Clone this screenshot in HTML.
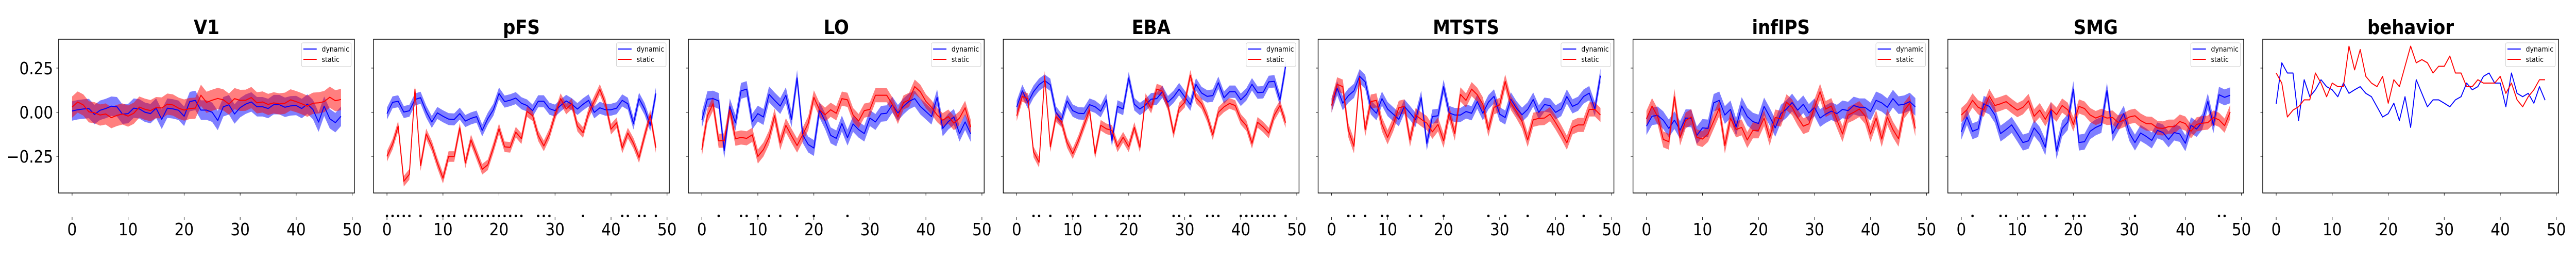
<!DOCTYPE html>
<html><head><meta charset="utf-8"><style>
html,body{margin:0;padding:0;background:#fff;overflow:hidden;width:100%;height:100%;}
svg{display:block;width:100vw;height:100vh;font-family:"DejaVu Sans","Liberation Sans",sans-serif;}
</style></head><body>
<svg id="chart" viewBox="0 0 5600 500" preserveAspectRatio="none" xmlns="http://www.w3.org/2000/svg"></svg>
<script>
const titles = ["V1","pFS","LO","EBA","MTSTS","infIPS","SMG","behavior"];
const xTicks = [0,10,20,30,40,50];
const yTicks = [0.25,0.00,-0.25];
const yTickLabels = ["0.25","0.00","\u22120.25"];
const v1Dyn=[0.007,0.014,0.018,0.021,-0.013,0.011,0.021,0.034,0.031,-0.011,-0.008,0.023,0.019,0,-0.008,0.023,-0.040,0.023,0.019,0.011,-0.023,0.060,0.067,0.012,0.012,0,-0.047,0.031,0.042,-0.010,0.026,0.046,0.058,0.031,0.031,0.021,0.043,0.043,0.028,0.036,0.038,0.021,0.046,0.015,-0.056,0.034,-0.037,-0.059,-0.023];
const v1Sta=[0.029,0.058,0.041,0.002,-0.003,-0.016,-0.010,-0.031,-0.018,-0.010,-0.022,-0.006,0.029,0.017,0.009,0.026,0.024,0.046,0.041,0.023,0.012,0.021,0.023,0.096,0.056,0.068,0.078,0.070,0.046,0.077,0.067,0.068,0.083,0.053,0.058,0.044,0.053,0.047,0.051,0.070,0.060,0.048,0.034,0.051,0.053,0.060,0.085,0.065,0.072];
const pfsDyn=[-0.008,0.056,0.062,0.001,0.008,0.072,0.082,0.004,-0.055,-0.004,-0.023,-0.039,-0.041,-0.008,-0.050,-0.035,-0.025,-0.103,-0.037,0.014,0.106,0.060,0.068,0.080,0.051,0.038,0.009,0.062,0.062,0.020,0.009,0.038,0.064,0.045,0.018,0.045,0.067,-0.001,0.025,0.014,0.014,0.023,0.067,0.048,-0.064,0.077,0.018,-0.074,0.106];
const pfsSta=[-0.250,-0.181,-0.079,-0.391,-0.352,0.131,-0.303,-0.123,-0.191,-0.288,-0.374,-0.251,-0.251,-0.089,-0.287,-0.157,-0.240,-0.323,-0.298,-0.201,-0.094,-0.196,-0.199,-0.113,-0.150,0.004,-0.020,-0.133,-0.191,-0.123,-0.016,0.077,0.018,0.048,-0.079,-0.116,-0.006,0.062,0.129,0.048,-0.096,-0.060,-0.203,-0.118,-0.176,-0.257,-0.133,-0.016,-0.201];
const loDyn=[-0.045,0.074,0.077,0.064,-0.218,0.033,-0.060,0.121,0.131,-0.053,-0.008,-0.027,0.101,0.067,0.035,0.096,-0.040,0.194,-0.128,-0.183,-0.203,0.014,-0.050,-0.131,-0.148,-0.064,-0.144,-0.066,-0.099,-0.121,-0.033,-0.055,-0.009,-0.006,0.043,-0.004,0.033,0.062,0.077,0.033,0.004,-0.025,0.084,-0.092,-0.053,-0.027,-0.121,-0.055,-0.123];
const loSta=[-0.212,-0.020,0.048,-0.162,-0.160,0.014,-0.150,-0.143,-0.148,-0.128,-0.251,-0.211,-0.143,-0.020,-0.174,-0.074,-0.133,-0.189,-0.128,-0.062,0.084,0.014,-0.014,0.014,-0.006,0.077,0.070,-0.016,-0.050,0.009,0.016,0.096,0.096,0.096,0.045,-0.027,0.055,0.070,0.145,0.116,0.062,0.028,-0.016,-0.045,-0.025,-0.062,-0.033,0.025,-0.084];
const ebaDyn=[0.030,0.121,0.055,0.116,0.156,0.179,0.155,-0.001,-0.043,0.064,0.009,-0.006,-0.008,0.043,0.031,0.006,0.070,-0.160,0.033,0.018,0.194,0.045,0.018,0.041,0.074,0.077,0.116,0.057,0.087,0.131,0.087,0.043,0.158,0.109,0.090,0.094,0.167,0.082,0.116,0.116,0.070,0.101,0.158,0.111,0.113,0.172,0.175,0.070,0.257];
const ebaSta=[-0.020,0.089,0.077,-0.225,-0.284,0.204,-0.196,-0.025,-0.055,-0.172,-0.235,-0.162,-0.074,0.012,-0.235,-0.074,-0.094,-0.103,-0.196,-0.142,-0.196,-0.086,-0.199,0.077,0.023,0.131,0.119,0.038,-0.118,0.023,0.057,0.209,0.082,0.048,-0.025,-0.128,-0.001,0.030,0.050,0.038,-0.040,-0.076,-0.176,-0.057,-0.084,-0.118,-0.016,0.038,-0.059];
const mtDyn=[0.038,0.136,0.051,0.094,0.121,0.204,0.172,0.028,-0.006,0.077,0.018,-0.011,-0.040,0.033,-0.004,-0.043,0.082,-0.177,-0.025,-0.020,0.145,-0.004,-0.016,-0.016,0.004,-0.006,0.060,-0.006,0.057,0.090,-0.011,-0.030,0.074,0.023,-0.014,0.016,0.072,-0.001,0.043,0.038,-0.001,0.018,0.089,0.033,0.048,0.089,0.108,0.018,0.207];
const mtSta=[0.038,0.158,0.145,-0.103,-0.193,0.194,-0.099,0.060,0.067,-0.069,-0.142,-0.069,0.025,0.033,-0.157,-0.016,-0.040,-0.062,-0.111,-0.069,-0.162,-0.006,-0.121,0.101,0.067,0.131,0.099,0.045,-0.099,0.028,0.041,0.174,0.053,0.004,-0.053,-0.157,-0.043,-0.035,-0.033,-0.011,-0.059,-0.113,-0.173,-0.086,-0.072,-0.072,0.016,0.016,-0.016];
const ipsDyn=[-0.079,-0.023,-0.018,-0.045,-0.092,-0.045,-0.101,-0.033,-0.035,-0.131,-0.089,-0.092,0.053,0.067,-0.016,0.016,-0.084,0.035,-0.025,-0.053,-0.064,0.033,-0.025,-0.089,-0.008,0.018,0.055,0.012,0.045,-0.004,0.028,-0.033,-0.011,0.006,-0.008,0.016,0.009,0.038,0.028,0.028,0.004,0.067,0.053,0.028,0.077,0.040,0.045,0.060,0.030];
const ipsSta=[-0.037,0.035,-0.025,-0.154,-0.167,0.087,-0.144,-0.047,-0.027,-0.142,-0.152,-0.123,-0.050,0.023,-0.189,-0.035,-0.098,-0.086,-0.157,-0.103,-0.103,-0.033,-0.144,-0.030,-0.037,0.057,0.028,-0.030,-0.079,-0.066,0.028,0.116,0.018,0.035,-0.045,-0.123,-0.016,-0.001,0.018,-0.020,-0.123,-0.033,-0.152,-0.027,-0.098,-0.150,0.009,0.051,-0.092];
const smgDyn=[-0.111,-0.027,-0.108,-0.095,0.048,0.033,-0.016,-0.121,-0.098,-0.072,-0.121,-0.172,-0.162,-0.089,-0.128,-0.199,0.016,-0.220,-0.093,-0.056,0.131,-0.172,-0.167,-0.108,-0.086,-0.072,0.123,-0.121,-0.064,-0.008,-0.118,-0.172,-0.118,-0.137,-0.160,-0.103,-0.115,-0.154,-0.115,-0.123,-0.176,-0.074,-0.095,-0.055,0.062,-0.074,0.099,0.084,0.096];
const smgSta=[-0.016,0.014,0.067,0.028,0.014,0.092,0.038,0.048,0.060,0.035,0.012,0.028,0.064,-0.023,0.012,-0.040,0.018,-0.014,0.038,0.014,-0.069,0.033,0.021,-0.016,-0.033,-0.020,-0.033,-0.030,-0.058,-0.045,-0.027,-0.020,-0.047,-0.064,-0.066,-0.089,-0.092,-0.082,-0.082,-0.053,-0.064,-0.108,-0.069,-0.062,-0.059,-0.030,-0.043,-0.076,0.002];
const behDyn=[0.048,0.280,0.222,0.222,-0.047,0.184,0.088,0.127,0.184,0.145,0.127,0.088,0.165,0.107,0.127,0.145,0.107,0.088,0.031,-0.027,-0.008,0.051,-0.047,0.088,-0.086,0.184,0.107,0.031,0.070,0.070,0.051,0.031,0.070,0.088,0.165,0.127,0.145,0.203,0.222,0.165,0.165,0.031,0.222,0.107,0.088,0.107,0.051,0.145,0.068];
const behSta=[0.222,0.165,-0.027,0.012,0.031,0.070,0.070,0.222,0.165,0.088,0.165,0.145,0.145,0.374,0.240,0.355,0.203,0.165,0.145,0.203,0.051,0.184,0.145,0.260,0.374,0.280,0.298,0.280,0.222,0.260,0.260,0.318,0.222,0.222,0.145,0.145,0.184,0.165,0.165,0.165,0.203,0.107,0.165,0.070,0.031,0.088,0.127,0.184,0.184];
const errDyn=[0.055,0.034,0.045,0.035,0.040,0.050,0.045,0.0];
const errSta=[0.060,0.030,0.040,0.030,0.040,0.045,0.040,0.0];
const sigPfs=[0,1,2,3,4,6,9,10,11,12,14,15,16,17,18,19,20,21,22,23,24,27,28,29,35,42,43,45,46,48];
const sigLo=[3,7,8,10,12,14,17,20,26];
const sigEba=[3,4,6,9,10,11,14,16,18,19,20,21,22,28,29,31,34,35,36,40,41,42,43,44,45,46,48];
const sigMt=[3,4,6,9,10,14,16,20,28,31,35,42,45,48];
const sigSmg=[2,7,8,11,12,15,17,20,21,22,31,46,47];
const dynSeries=[v1Dyn,pfsDyn,loDyn,ebaDyn,mtDyn,ipsDyn,smgDyn,behDyn];
const staSeries=[v1Sta,pfsSta,loSta,ebaSta,mtSta,ipsSta,smgSta,behSta];
const sigSeries=[[],sigPfs,sigLo,sigEba,sigMt,[],sigSmg,[]];

const NS="http://www.w3.org/2000/svg";
const svg=document.getElementById('chart');
const AX_TOP=76, AX_BOT=374, AX_W=643, X_MIN=-2.4, X_MAX=50.4, Y_MIN=-0.4575, Y_MAX=0.4135;
function mk(tag,attrs,parent){const e=document.createElementNS(NS,tag);for(const k in attrs)e.setAttribute(k,attrs[k]);(parent||svg).appendChild(e);return e;}
function panelLeft(i){return 127.5+684.5*i;}
function xScale(i,v){return panelLeft(i)+(v-X_MIN)/(X_MAX-X_MIN)*AX_W;}
function yScale(v){return AX_BOT-(v-Y_MIN)/(Y_MAX-Y_MIN)*(AX_BOT-AX_TOP);}

for(let p=0;p<titles.length;p++){
  const g=mk('g',{});
  
  
  const L=panelLeft(p);
  const t=mk('text',{x:L+AX_W/2,y:66,'text-anchor':'middle','font-size':38,'font-weight':'bold',fill:'#000'},g);
  t.textContent=titles[p];
  
  
  const order=[[dynSeries[p],errDyn[p],'#0000ff','dynamic'],[staSeries[p],errSta[p],'#ff0000','static']];
  for(const s of order){
    const d=s[0], e=s[1];
    if(e>0){
      let pts=[];
      for(let i=0;i<d.length;i++)pts.push(xScale(p,i).toFixed(1)+','+yScale(d[i]+e).toFixed(1));
      for(let i=d.length-1;i>=0;i--)pts.push(xScale(p,i).toFixed(1)+','+yScale(d[i]-e).toFixed(1));
      const band=mk('polygon',{points:pts.join(' '),fill:s[2],'fill-opacity':0.5,stroke:'none'},g);
      
      
    }
  }
  for(const s of order){
    const d=s[0];
    let pts=[];
    for(let i=0;i<d.length;i++)pts.push(xScale(p,i).toFixed(1)+','+yScale(d[i]).toFixed(1));
    const ln=mk('polyline',{points:pts.join(' '),fill:'none',stroke:s[2],'stroke-width':2,'stroke-linejoin':'round'},g);
    
    
  }
  const fr=mk('rect',{x:L,y:AX_TOP,width:AX_W,height:AX_BOT-AX_TOP,fill:'none',stroke:'#000','stroke-width':1.5},g);
  
  
  for(let k=0;k<yTicks.length;k++){
    const y=yScale(yTicks[k]);
    const tk=mk('line',{x1:L-5,x2:L,y1:y,y2:y,stroke:'#000','stroke-width':1},g);
    
    
    if(p===0){
      const tl=mk('text',{x:L-12,y:y+12,'text-anchor':'end','font-size':33,fill:'#000'},g);
      tl.textContent=yTickLabels[k];
      
      
    }
  }
  for(const v of xTicks){
    const x=xScale(p,v);
    const t1=mk('line',{x1:x,x2:x,y1:AX_BOT,y2:AX_BOT+5,stroke:'#000','stroke-width':1},g);
    
    
    const t2=mk('line',{x1:x,x2:x,y1:421,y2:426,stroke:'#000','stroke-width':1},g);
    
    
    const tl=mk('text',{x:x,y:456,'text-anchor':'middle','font-size':33,fill:'#000'},g);
    tl.textContent=String(v);
    
    
  }
  for(const idx of sigSeries[p]){
    const c=mk('circle',{cx:xScale(p,idx),cy:418.5,r:2.6,fill:'#000'},g);
    
    
  }
  const lx=L+AX_W-115, ly=83;
  const lg=mk('g',{},g);
  
  
  mk('rect',{x:lx,y:ly,width:108,height:46,rx:3,fill:'#fff','fill-opacity':0.8,stroke:'#ccc','stroke-width':1},lg);
  const ents=[['dynamic','#0000ff',95],['static','#ff0000',115]];
  for(const en of ents){
    const le=mk('g',{},lg);
    
    
    mk('line',{x1:lx+4,x2:lx+33,y1:en[2],y2:en[2],stroke:en[1],'stroke-width':2},le);
    const tx=mk('text',{x:lx+44,y:en[2]+5,'font-size':14,fill:'#000'},le);
    tx.textContent=en[0];
  }
}
</script>
</body></html>
